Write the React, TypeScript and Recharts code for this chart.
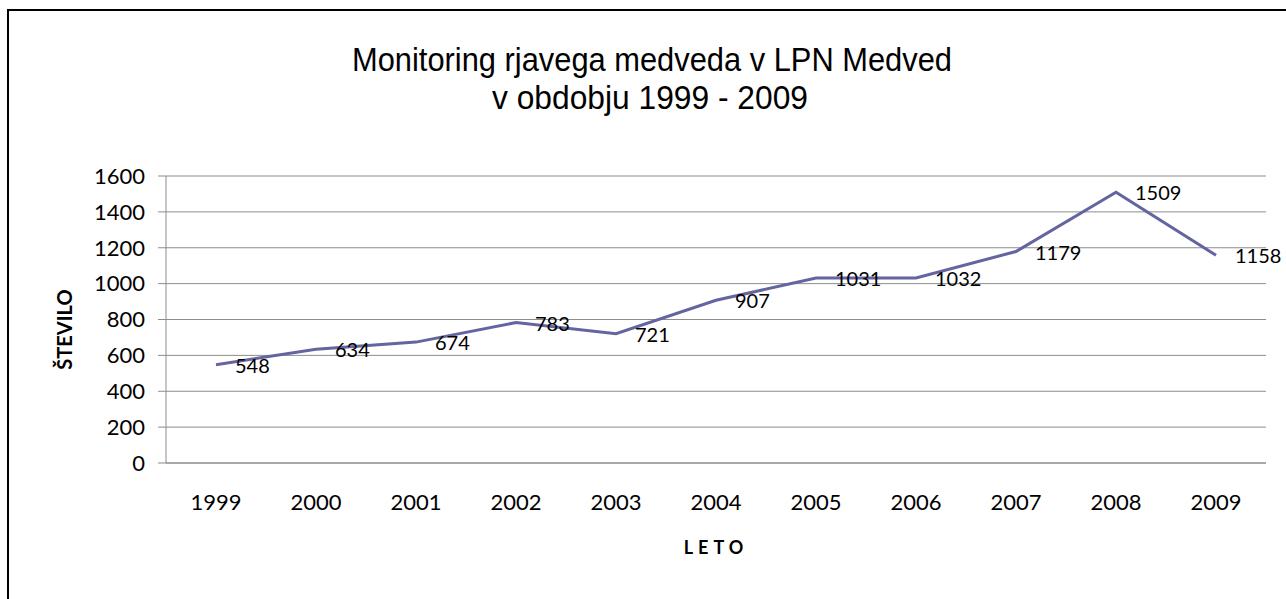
import React from 'react';
import { LineChart, Line, XAxis, YAxis, CartesianGrid, LabelList } from 'recharts';

const years = ['1999', '2000', '2001', '2002', '2003', '2004', '2005', '2006', '2007', '2008', '2009'];
const counts = [548, 634, 674, 783, 721, 907, 1031, 1032, 1179, 1509, 1158];
const yTicks = [0, 200, 400, 600, 800, 1000, 1200, 1400, 1600];
const titleLines = ['Monitoring rjavega medveda v LPN Medved', 'v obdobju 1999 - 2009'];
const xTitle = 'LETO';
const yTitle = 'ŠTEVILO';

const data = years.map((y, i) => ({ year: y, value: counts[i] }));

const FONT = 'Lato, "Open Sans", sans-serif';
const LINE_COLOR = '#6464a0';

const DataLabel = (props: any) => {
  const { x, y, value } = props;
  return (
    <text x={x + 19} y={y + 1} dy="0.355em" fontFamily={FONT} fontSize={20} fill="#000" textAnchor="start">
      {value}
    </text>
  );
};

const YTitle = (props: any) => {
  const vb = props.viewBox || {};
  const cx = vb.x - 41;
  const cy = vb.y + vb.height / 2 + 10;
  return (
    <text
      x={cx}
      y={cy}
      transform={`rotate(-90, ${cx}, ${cy})`}
      textAnchor="middle"
      dy="0.355em"
      fontFamily={FONT}
      fontWeight="bold"
      fontSize={20}
      fill="#000"
    >
      {yTitle}
    </text>
  );
};

const XTitle = (props: any) => {
  const vb = props.viewBox || {};
  const cx = vb.x + vb.width / 2;
  const cy = vb.y + 85;
  return (
    <text
      x={cx}
      y={cy}
      textAnchor="middle"
      dy="0.355em"
      fontFamily={FONT}
      fontWeight="bold"
      fontSize={18}
      letterSpacing={5}
      fill="#000"
    >
      {xTitle}
    </text>
  );
};

export default function App() {
  return (
    <div
      style={{
        position: 'fixed',
        left: 0,
        top: 0,
        width: 1286,
        height: 599,
        overflow: 'hidden',
        background: '#fff',
      }}
    >
      <div
        style={{
          position: 'absolute',
          left: 7,
          top: 9,
          width: 1300,
          height: 620,
          borderLeft: '2px solid #000',
          borderTop: '2px solid #000',
          boxSizing: 'border-box',
        }}
      />
      <svg width={1286} height={140} style={{ position: 'absolute', left: 0, top: 0 }}>
        <text x={652} y={71} textAnchor="middle" fontFamily='"Liberation Sans", Arial, sans-serif' fontSize={33} textLength={600} lengthAdjust="spacingAndGlyphs" fill="#000">
          {titleLines[0]}
        </text>
        <text x={650} y={109} textAnchor="middle" fontFamily='"Liberation Sans", Arial, sans-serif' fontSize={33} textLength={316} lengthAdjust="spacingAndGlyphs" fill="#000">
          {titleLines[1]}
        </text>
      </svg>
      <div style={{ position: 'absolute', left: 0, top: 0 }}>
        <LineChart
          width={1286}
          height={599}
          data={data}
          margin={{ top: 176, right: 20, bottom: 106, left: 106 }}
          style={{ overflow: 'visible' }}
        >
          <CartesianGrid vertical={false} stroke="#8c8c8c" strokeWidth={1} />
          <XAxis
            dataKey="year"
            height={30}
            padding={{ left: 50, right: 50 }}
            tickLine={false}
            tickSize={0}
            tickMargin={31}
            axisLine={{ stroke: '#8c8c8c' }}
            tick={{ fontFamily: FONT, fontSize: 22, fill: '#000' }}
            label={<XTitle />}
          />
          <YAxis
            width={60}
            domain={[0, 1600]}
            ticks={yTicks}
            interval={0}
            tickSize={8}
            tickMargin={13}
            tickLine={{ stroke: '#8c8c8c' }}
            axisLine={{ stroke: '#8c8c8c' }}
            tick={{ fontFamily: FONT, fontSize: 22, fill: '#000' }}
            label={<YTitle />}
          />
          <Line
            type="linear"
            dataKey="value"
            stroke={LINE_COLOR}
            strokeWidth={3}
            dot={false}
            activeDot={false}
            isAnimationActive={false}
          >
            <LabelList dataKey="value" content={<DataLabel />} />
          </Line>
        </LineChart>
      </div>
    </div>
  );
}
